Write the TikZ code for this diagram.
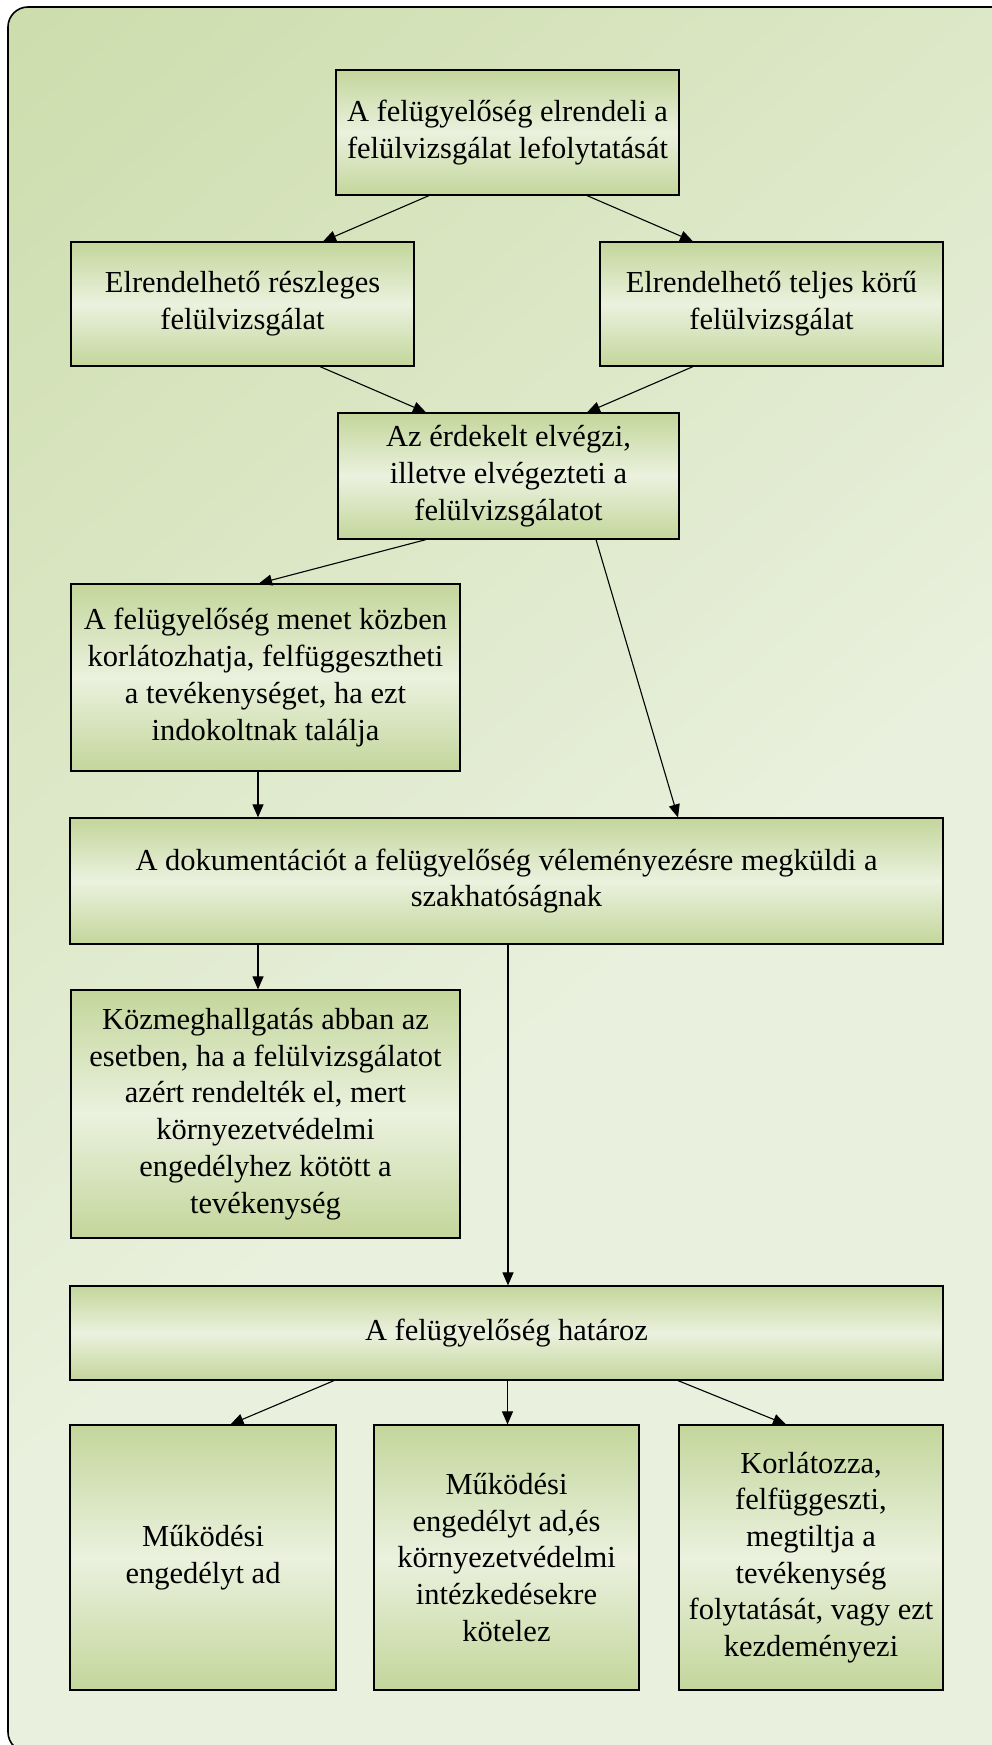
\documentclass[tikz,border=0pt]{standalone}
\usepackage{fontspec}
\setmainfont{Liberation Serif}
\usetikzlibrary{arrows.meta,calc}

\definecolor{boxgreen}{HTML}{C3D69B}
\definecolor{boxlight}{HTML}{EBF1DE}
\definecolor{bgdark}{HTML}{C2D69A}
\definecolor{bglight}{HTML}{E9F0DD}

% panel background: darker green towards the top-left corner
\pgfdeclareverticalshading{panelshade}{100bp}{%
  color(0bp)=(bglight); color(45bp)=(bglight); color(100bp)=(bgdark)}

\tikzset{
  stepbox/.style 2 args={draw=black, line width=1.2pt,
    top color=boxgreen, bottom color=boxgreen, middle color=boxlight,
    inner sep=0pt, align=center, text=black,
    font=\fontsize{30.5}{36.7}\selectfont,
    minimum width=#1pt, minimum height=#2pt},
  link/.style={line width=1.1pt, -{Triangle[length=13pt,width=11pt]}},
}

\begin{document}
\begin{tikzpicture}[x=1pt,y=-1pt]
\useasboundingbox (0,0) rectangle (992,1745);
\clip (0,0) rectangle (992,1745);

% background panel
\draw[line width=1.6pt, rounded corners=20pt, shading=panelshade, shading angle=40]
  (8,7) rectangle (1012,1752);

% process boxes
\node[stepbox={343}{125}] (b1) at (507.5,132.5)
  {A felügyelőség elrendeli a\\felülvizsgálat lefolytatását};
\node[stepbox={343}{124}] (b2) at (242.5,304)
  {Elrendelhető részleges\\felülvizsgálat};
\node[stepbox={343}{124}] (b3) at (771.5,304)
  {Elrendelhető teljes körű\\felülvizsgálat};
\node[stepbox={341}{126}] (b4) at (508.5,476)
  {Az érdekelt elvégzi,\\illetve elvégezteti a\\felülvizsgálatot};
\node[stepbox={389}{187}] (b5) at (265.5,677.5)
  {A felügyelőség menet közben\\korlátozhatja, felfüggesztheti\\a tevékenységet, ha ezt\\indokoltnak találja};
\node[stepbox={873}{126}] (b6) at (506.5,881)
  {A dokumentációt a felügyelőség véleményezésre megküldi a\\szakhatóságnak};
\node[stepbox={389}{248}] (b7) at (265.5,1114)
  {Közmeghallgatás abban az\\esetben, ha a felülvizsgálatot\\azért rendelték el, mert\\környezetvédelmi\\engedélyhez kötött a\\tevékenység};
\node[stepbox={873}{94}] (b8) at (506.5,1333)
  {A felügyelőség határoz};
\node[stepbox={266}{265}] (b9) at (203,1557.5)
  {Működési\\engedélyt ad};
\node[stepbox={265}{265}] (b10) at (506.5,1557.5)
  {Működési\\engedélyt ad,és\\környezetvédelmi\\intézkedésekre\\kötelez};
\node[stepbox={264}{265}] (b11) at (811,1557.5)
  {Korlátozza,\\felfüggeszti,\\megtiltja a\\tevékenység\\folytatását, vagy ezt\\kezdeményezi};

% connectors
\draw[link] ($(b1.south)+(-78.5,0)$) -- ($(b2.north)+(80.5,0)$);
\draw[link] ($(b1.south)+(79.5,0)$) -- ($(b3.north)+(-78.5,0)$);
\draw[link] ($(b2.south)+(77.5,0)$) -- ($(b4.north)+(-82.5,0)$);
\draw[link] ($(b3.south)+(-78.5,0)$) -- ($(b4.north)+(78.5,0)$);
\draw[link] ($(b4.south)+(-82.5,0)$) -- ($(b5.north)+(-6.5,0)$);
\draw[link] ($(b4.south)+(87.5,0)$) -- ($(b6.north)+(171.5,0)$);
\draw[link] ($(b5.south)+(-7.5,0)$) -- ($(b6.north)+(-248.5,0)$);
\draw[link] ($(b6.south)+(-248.5,0)$) -- ($(b7.north)+(-7.5,0)$);
\draw[link] ($(b6.south)+(1.5,0)$) -- ($(b8.north)+(1.5,0)$);
\draw[link] ($(b8.south)+(-172.5,0)$) -- ($(b9.north)+(27.5,0)$);
\draw[link] ($(b8.south)+(1,0)$) -- ($(b10.north)+(1,0)$);
\draw[link] ($(b8.south)+(171.5,0)$) -- ($(b11.north)+(-25,0)$);
\end{tikzpicture}
\end{document}
